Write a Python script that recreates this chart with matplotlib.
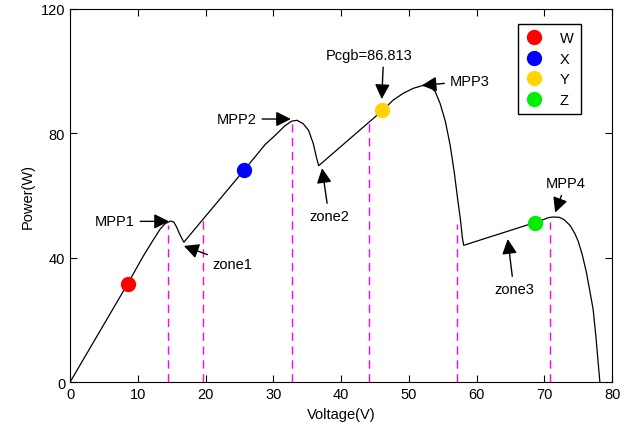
import matplotlib
matplotlib.use('Agg')
import matplotlib.pyplot as plt

plt.rcParams['font.family'] = ['Liberation Sans', 'DejaVu Sans']

# P-V curve
voltage = [0, 8.5, 10.8, 12.3, 13.3, 14.0, 14.8, 15.3, 15.7, 16.2, 16.8,
           25.7, 28.8, 30.3, 31.7, 32.7, 33.5, 34.4, 35.2, 35.9, 36.4, 36.7,
           46.2, 47.7, 49.2, 50.7, 52.1, 53.1, 53.9, 54.6, 55.4, 56.1, 56.7, 57.2, 57.6, 57.9, 58.1,
           68.6, 69.8, 70.6, 71.3, 72.2, 72.9, 73.8, 74.5, 75.0, 75.6, 76.2, 76.7, 77.2, 77.6, 78.0, 78.2]
power = [0, 31.6, 40.5, 45.8, 49.2, 50.9, 51.8, 51.5, 50.0, 47.5, 45.0,
         68.2, 76.4, 79.4, 82.4, 83.9, 84.2, 83.1, 81.0, 76.7, 72.0, 69.6,
         87.5, 90.7, 92.9, 94.5, 95.4, 95.1, 93.4, 89.7, 83.8, 76.2, 67.6, 59.0, 52.6, 46.5, 44.0,
         51.3, 52.2, 52.9, 53.1, 53.0, 52.3, 50.4, 47.8, 45.3, 41.0, 35.4, 29.5, 23.5, 15.0, 5.0, 0]

# operating points
point_names = ['W', 'X', 'Y', 'Z']
point_v = [8.5, 25.7, 46.1, 68.6]
point_p = [31.6, 68.2, 87.5, 51.3]
point_colors = ['#ff0000', '#0000ff', '#ffd400', '#00ee00']

# zone boundaries (magenta dashed)
zone_v = [14.4, 19.6, 32.7, 44.1, 57.1, 70.9]
zone_top = [50.5, 52.0, 83.0, 84.5, 51.0, 51.5]

# annotations: text, text position, arrow tip, where the arrow leaves the text
notes = [
    ('MPP1', (6.6, 51.7), (14.6, 51.7), (0.5, 0.5)),
    ('zone1', (24.0, 38.0), (16.8, 43.8), (0.5, 0.5)),
    ('MPP2', (24.6, 84.6), (32.6, 84.6), (0.5, 0.5)),
    ('zone2', (38.2, 53.5), (37.2, 68.8), (0.5, 0.5)),
    ('Pcgb=86.813', (44.2, 105.3), (46.0, 91.0), (0.66, 0.0)),
    ('MPP3', (59.0, 96.8), (51.9, 95.4), (0.5, 0.5)),
    ('zone3', (65.5, 30.0), (64.6, 46.0), (0.5, 0.5)),
    ('MPP4', (73.2, 64.0), (71.6, 54.5), (0.5, 0.5)),
]

fig = plt.figure(figsize=(6.31, 4.31), dpi=100)
ax = fig.add_axes([0.111, 0.111, 0.859, 0.866])

ax.plot(voltage, power, color='k', lw=0.9)

for v, top in zip(zone_v, zone_top):
    ax.plot([v, v], [0, top], color='#ff00ff', lw=1, dashes=(6, 4))

for name, v, p, c in zip(point_names, point_v, point_p, point_colors):
    ax.plot(v, p, 'o', color=c, ms=10, label=name, zorder=5)

for text, xy_text, xy_tip, rel in notes:
    ax.annotate(text, xy=xy_tip, xytext=xy_text, fontsize=10.5,
                ha='center', va='center',
                arrowprops=dict(arrowstyle='-|>,head_length=0.6,head_width=0.3',
                                color='k', lw=1, relpos=rel,
                                mutation_scale=15, shrinkA=2, shrinkB=0))

ax.set_xlim(0, 80)
ax.set_ylim(0, 120)
ax.set_xticks(range(0, 81, 10))
ax.set_yticks([0, 40, 80, 120])
ax.tick_params(direction='in', top=True, right=True, length=5, labelsize=10.5)
ax.set_xlabel('Voltage(V)', fontsize=10.5)
ax.set_ylabel('Power(W)', fontsize=10.5)

leg = ax.legend(loc='upper right', bbox_to_anchor=(0.956, 0.979), fontsize=10.5,
                handletextpad=1.2, labelspacing=0.45, borderpad=0.5,
                fancybox=False, framealpha=1, handlelength=1.2)
leg.get_frame().set_edgecolor('k')
leg.get_frame().set_linewidth(1)

fig.savefig('out.png', dpi=100)
